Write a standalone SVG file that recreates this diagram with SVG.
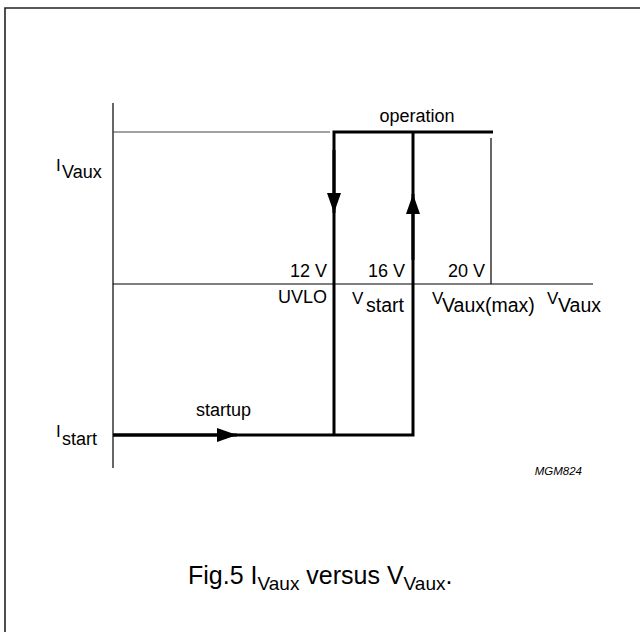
<svg xmlns="http://www.w3.org/2000/svg" width="640" height="632" viewBox="0 0 640 632">
<style>
.t{font-family:"Liberation Sans",Arial,sans-serif;font-size:18px;fill:#000}
.s{font-family:"Liberation Sans",Arial,sans-serif;font-size:19.5px;fill:#000}
.b{font-family:"Liberation Sans",Arial,sans-serif;font-size:17px;fill:#000}
.thin{stroke:#000;stroke-width:1.2;fill:none}
.thick{stroke:#000;stroke-width:3;fill:none}
.cap{font-family:"Liberation Sans",Arial,sans-serif;font-size:25px;fill:#000}
.cs{font-family:"Liberation Sans",Arial,sans-serif;font-size:19px;fill:#000}
</style>
<defs>
<marker id="ah" viewBox="0 0 20 14" refX="20" refY="7" markerWidth="20" markerHeight="14" markerUnits="userSpaceOnUse" orient="auto"><path d="M0,0 L20,7 L0,14 Z" fill="#000"/></marker>
</defs>
<rect width="640" height="632" fill="#fff"/>
<g id="frame"><path d="M5,632 V8 H640" stroke="#222" stroke-width="1.6" fill="none"/></g>
<g id="axes">
<line class="thin" x1="113" y1="103" x2="113" y2="468"/>
<line class="thin" x1="113" y1="284" x2="593" y2="284"/>
<line x1="113" y1="132" x2="330" y2="132" stroke="#444" stroke-width="1"/>
<line class="thin" x1="491" y1="138" x2="491" y2="284"/>
</g>
<g id="connectors">
<path class="thick" d="M113,435 H413 V132"/>
<path class="thick" d="M334,435 V132 H493"/>
<line class="thick" x1="113" y1="435" x2="237" y2="435" marker-end="url(#ah)"/>
<line class="thick" x1="334" y1="150" x2="334" y2="213" marker-end="url(#ah)"/>
<line class="thick" x1="413" y1="260" x2="413" y2="194" marker-end="url(#ah)"/>
</g>
<g id="labels">
<text class="t" x="417" y="122" text-anchor="middle">operation</text>
<text x="56" y="171"><tspan class="b">I</tspan><tspan class="t" x="62" y="178">Vaux</tspan></text>
<text x="56" y="437"><tspan class="b">I</tspan><tspan class="t" x="62" y="445">start</tspan></text>
<text class="t" x="327" y="277" text-anchor="end">12 V</text>
<text class="t" x="405" y="277" text-anchor="end">16 V</text>
<text class="t" x="485" y="277" text-anchor="end">20 V</text>
<text class="t" x="327" y="303" text-anchor="end">UVLO</text>
<text x="352" y="304"><tspan class="b">V</tspan><tspan class="s" x="366" y="312">start</tspan></text>
<text x="432" y="304"><tspan class="b">V</tspan><tspan class="s" x="442" y="312">Vaux(max)</tspan></text>
<text x="547" y="304"><tspan class="b">V</tspan><tspan class="s" x="558" y="312">Vaux</tspan></text>
<text class="t" x="196" y="416">startup</text>
<text x="582" y="475" text-anchor="end" font-family="Liberation Sans,Arial,sans-serif" font-size="11.5" font-style="italic">MGM824</text>
<text x="188" y="584"><tspan class="cap">Fig.5  I</tspan><tspan class="cs" dy="6">Vaux</tspan><tspan class="cap" dy="-6"> versus V</tspan><tspan class="cs" dy="6">Vaux</tspan><tspan class="cap" dy="-6">.</tspan></text>
</g>
</svg>
